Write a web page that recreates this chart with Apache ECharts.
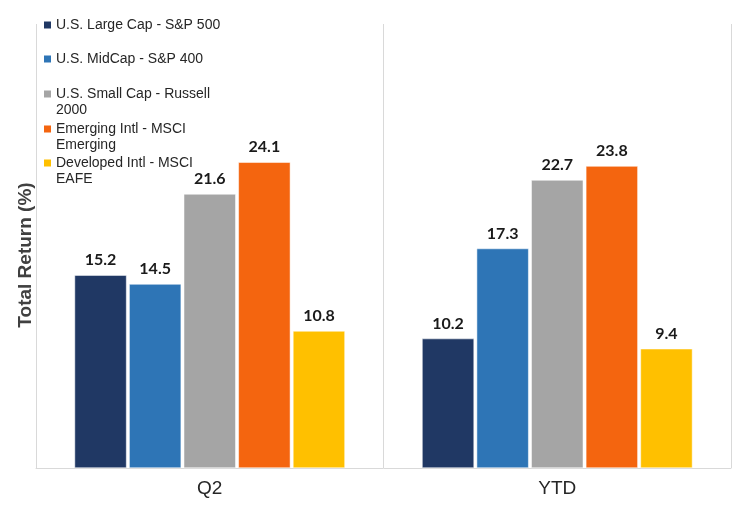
<!DOCTYPE html>
<html>
<head>
<meta charset="utf-8">
<script src="https://cdn.jsdelivr.net/npm/echarts@6/dist/echarts.min.js"></script>
<style>
  html, body { margin: 0; padding: 0; background: #fff; }
  #chart { width: 746px; height: 523px; }
</style>
</head>
<body>
<div id="chart"></div>
<script>
const periods = ['Q2', 'YTD'];
const seriesNames = [
  'U.S. Large Cap - S&P 500',
  'U.S. MidCap - S&P 400',
  'U.S. Small Cap - Russell 2000',
  'Emerging Intl - MSCI Emerging',
  'Developed Intl - MSCI EAFE'
];
// legend text as wrapped in the reference
const legendLabels = [
  'U.S. Large Cap - S&P 500',
  'U.S. MidCap - S&P 400',
  'U.S. Small Cap - Russell\n2000',
  'Emerging Intl - MSCI\nEmerging',
  'Developed Intl - MSCI\nEAFE'
];
const largeCap = [15.2, 10.2];
const midCap = [14.5, 17.3];
const smallCap = [21.6, 22.7];
const emerging = [24.1, 23.8];
const developed = [10.8, 9.4];
const colors = ['#203864', '#2E75B6', '#A5A5A5', '#F4650F', '#FFC000'];

const values = [largeCap, midCap, smallCap, emerging, developed];
const legendTops = [17, 51, 86, 121, 155];

// square sitting beside the first line of a wrapped legend label
const topSquare = 'path://M0,0 L7,0 L7,7 L0,7 Z M0,23 L7,23';

const chart = echarts.init(document.getElementById('chart'));

const legends = seriesNames.map(function (name, i) {
  const twoLine = legendLabels[i].indexOf('\n') >= 0;
  return {
    data: [name],
    left: 44,
    top: legendTops[i],
    padding: 0,
    icon: twoLine ? topSquare : 'rect',
    itemWidth: 7,
    itemHeight: twoLine ? 23 : 7,
    itemGap: 4,
    selectedMode: false,
    itemStyle: { borderWidth: 0 },
    formatter: function () { return legendLabels[i]; },
    textStyle: {
      fontFamily: 'Liberation Sans, Arial, sans-serif',
      fontSize: 14,
      color: '#262626',
      lineHeight: 16
    }
  };
});

chart.setOption({
  animation: false,
  color: colors,
  legend: legends,
  grid: { left: 36, right: 15, top: 24, bottom: 55, containLabel: false, outerBoundsMode: 'none' },
  xAxis: {
    type: 'category',
    data: periods,
    axisLine: { lineStyle: { color: '#d9d9d9', width: 1 } },
    axisTick: { show: false },
    splitLine: { show: true, lineStyle: { color: '#d9d9d9', width: 1 } },
    axisLabel: {
      margin: 11,
      fontFamily: 'Liberation Sans, Arial, sans-serif',
      fontSize: 19,
      color: '#262626'
    }
  },
  yAxis: {
    type: 'value',
    min: 0,
    max: 35,
    axisLine: { show: false },
    axisTick: { show: false },
    axisLabel: { show: false },
    splitLine: { show: false },
    name: 'Total Return (%)',
    nameLocation: 'middle',
    nameGap: 1,
    nameTextStyle: {
      fontFamily: 'Liberation Sans, Arial, sans-serif',
      fontSize: 19,
      fontWeight: 'bold',
      color: '#404040',
      padding: [0, 18, 0, 0]
    }
  },
  series: seriesNames.map(function (name, i) {
    return {
      name: name,
      type: 'bar',
      data: values[i],
      barWidth: 52,
      barGap: '5%',
      itemStyle: { color: colors[i], borderColor: '#ffffff', borderWidth: 0.5 },
      label: {
        show: true,
        position: 'top',
        distance: 7,
        fontFamily: 'Lato, Carlito, sans-serif',
        fontWeight: 'bold',
        fontSize: 16,
        color: '#1a1a1a',
        formatter: function (p) { return p.value.toFixed(1); }
      }
    };
  })
});
</script>
</body>
</html>
